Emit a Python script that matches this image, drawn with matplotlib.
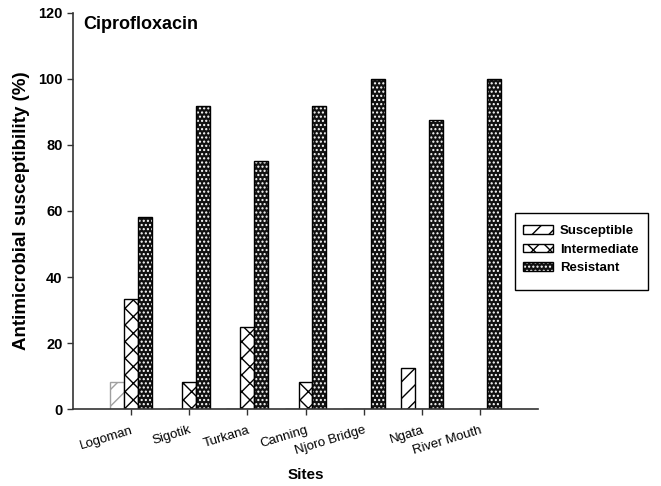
import matplotlib
matplotlib.use("Agg")
import matplotlib.pyplot as plt
from matplotlib.patches import Patch, Rectangle
from matplotlib.legend_handler import HandlerTuple
import numpy as np

sites = ["Logoman", "Sigotik", "Turkana", "Canning", "Njoro Bridge", "Ngata", "River Mouth"]
susceptible = [8.3, 0, 0, 0, 0, 12.5, 0]
intermediate = [33.3, 8.3, 25.0, 8.3, 0, 0, 0]
resistant = [58.3, 91.7, 75.0, 91.7, 100, 87.5, 100]
yticks = [0, 20, 40, 60, 80, 100, 120]

plt.rcParams["font.family"] = ["Liberation Sans", "DejaVu Sans"]
plt.rcParams["hatch.linewidth"] = 1.0

fig = plt.figure(figsize=(6.61, 4.86), dpi=100)
ax = fig.add_axes([0.1104, 0.1584, 0.7036, 0.8149])

x = np.arange(1, len(sites) + 1)
w = 0.24
dot_hatch = "...."
sus_edges = ["#a0a0a0"] + ["black"] * (len(sites) - 1)
ax.bar(x - w, susceptible, w, facecolor="white", edgecolor=sus_edges,
       hatch="//", linewidth=1.0)
ax.bar(x, intermediate, w, facecolor="white", edgecolor="black",
       hatch="xx", linewidth=1.0)
# resistant: dark fill with white dots, outlined separately
ax.bar(x + w, resistant, w, facecolor="#111111", edgecolor="white",
       hatch=dot_hatch, linewidth=0)
ax.bar(x + w, resistant, w, facecolor="none", edgecolor="black", linewidth=1.0)

ax.set_xlim(0, 8)
ax.set_ylim(0, 120)
ax.set_yticks(yticks)
ax.set_yticklabels([str(v) for v in yticks], fontsize=10.5, fontweight="bold")
ax.set_xticks(x)
ax.set_xticklabels(sites, rotation=17, ha="right", va="top", fontsize=9.5,
                   rotation_mode="anchor")

for s in ["top", "right"]:
    ax.spines[s].set_visible(False)
for s in ["left", "bottom"]:
    ax.spines[s].set_linewidth(1.2)
    ax.spines[s].set_color("#333333")
ax.tick_params(axis="both", direction="out", length=4, width=1.0, color="#333333")
ax.tick_params(axis="x", pad=7)

ax.text(0.022, 0.992, "Ciprofloxacin", transform=ax.transAxes, fontsize=13,
        fontweight="bold", va="top", ha="left")
ax.set_ylabel("Antimicrobial susceptibility (%)", fontsize=13.5, fontweight="bold",
              labelpad=6)
ax.set_xlabel("Sites", fontsize=11, fontweight="bold", labelpad=8)

h_sus = Patch(facecolor="white", edgecolor="black", hatch="//", linewidth=1.0)
h_int = Patch(facecolor="white", edgecolor="black", hatch="xx", linewidth=1.0)
h_res = (Patch(facecolor="#111111", edgecolor="white", hatch=dot_hatch, linewidth=0),
         Patch(facecolor="none", edgecolor="black", linewidth=1.0))
leg = fig.legend([h_sus, h_int, h_res], ["Susceptible", "Intermediate", "Resistant"],
                 handler_map={tuple: HandlerTuple(ndivide=1, pad=0)},
                 loc="upper left", bbox_to_anchor=(0.7912, 0.537),
                 bbox_transform=fig.transFigure,
                 prop={"weight": "bold", "size": 9.5},
                 frameon=False, borderpad=0, labelspacing=0.5, handlelength=2.3,
                 handleheight=0.6, handletextpad=0.5, borderaxespad=0)
fig.patches.append(Rectangle((0.7791, 0.4033), 0.2012, 0.1584, transform=fig.transFigure,
                             facecolor="none", edgecolor="black", linewidth=1.0))

fig.savefig("out.png", dpi=100)
